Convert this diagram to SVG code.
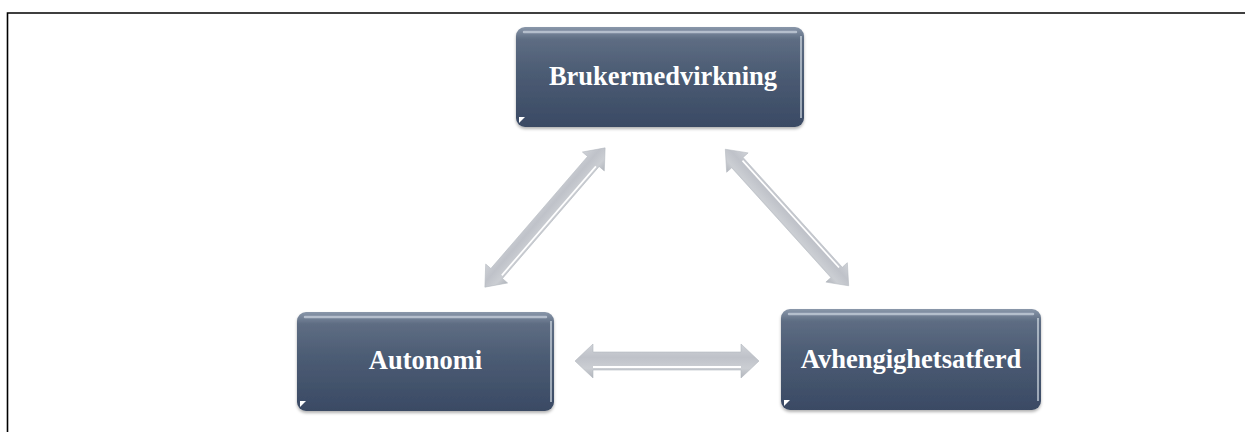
<svg xmlns="http://www.w3.org/2000/svg" width="1245" height="432" viewBox="0 0 1245 432">
  <defs>
    <style>
      .lbl { font-family: "Liberation Serif", "Times New Roman", serif; font-weight: bold; font-size: 26.5px; fill: #ffffff; text-anchor: middle; }
      .box { fill: url(#boxGrad); filter: url(#shadow); }
      .hl { fill: none; stroke: #c9d2dd; stroke-width: 2.5; stroke-opacity: 0.75; stroke-linecap: round; }
      .side { fill: none; stroke: #dfe6ee; stroke-width: 1.5; stroke-opacity: 0.8; }
      .tri { fill: #ffffff; }
      .arrow { fill: url(#arrGrad); stroke: #b4b8bf; stroke-width: 0.6; }
      .shine { fill: none; stroke: #ffffff; stroke-width: 2; }
    </style>
    <linearGradient id="boxGrad" x1="0" y1="0" x2="0" y2="1">
      <stop offset="0" stop-color="#8a97aa"/>
      <stop offset="0.12" stop-color="#5e6d83"/>
      <stop offset="0.45" stop-color="#4c5c74"/>
      <stop offset="1" stop-color="#3a4a64"/>
    </linearGradient>
    <linearGradient id="arrGrad" gradientUnits="userSpaceOnUse" x1="0" y1="-18" x2="0" y2="18">
      <stop offset="0" stop-color="#d0d3d8"/>
      <stop offset="0.4" stop-color="#bfc2c9"/>
      <stop offset="0.7" stop-color="#cbced3"/>
      <stop offset="1" stop-color="#aeb2b9"/>
    </linearGradient>
    <filter id="shadow" x="-10%" y="-10%" width="120%" height="130%">
      <feDropShadow dx="0" dy="2" stdDeviation="1.5" flood-color="#000000" flood-opacity="0.3"/>
    </filter>
    <path id="dArrow" class="arrow" d="M -92 0 L -74 -17 L -74 -9 L 74 -9 L 74 -17 L 92 0 L 74 17 L 74 9 L -74 9 L -74 17 Z"/>
  </defs>

  <rect width="1245" height="432" fill="#ffffff"/>

  <g id="frame" fill="none" stroke="#000000" stroke-width="1.6">
    <path d="M 7.5 432 L 7.5 13 L 1245 13"/>
  </g>

  <g id="connectors">
    <g transform="translate(545 217.5) rotate(-49.2) scale(1 0.85)">
      <use href="#dArrow"/>
      <path class="shine" d="M -72 6 L 72 6"/>
    </g>
    <g transform="translate(787 217.5) rotate(47.9) scale(1 0.85)">
      <use href="#dArrow"/>
      <path class="shine" d="M -72 -6 L 72 -6"/>
    </g>
    <g transform="translate(667 361)">
      <use href="#dArrow"/>
      <path class="shine" d="M -74 6 L 74 6"/>
    </g>
  </g>

  <g id="node-brukermedvirkning">
    <rect class="box" x="516" y="27" width="288" height="100" rx="9"/>
    <path class="hl" d="M 524 32 L 796 32"/>
    <path class="side" d="M 801 36 L 801 118"/>
    <path class="tri" d="M 519 117 L 525 117 L 519 123 Z"/>
    <text class="lbl" x="663" y="85">Brukermedvirkning</text>
  </g>

  <g id="node-autonomi">
    <rect class="box" x="297" y="312" width="257" height="99" rx="9"/>
    <path class="hl" d="M 305 317 L 546 317"/>
    <path class="side" d="M 551 321 L 551 402"/>
    <path class="tri" d="M 300 401 L 306 401 L 300 407 Z"/>
    <text class="lbl" x="425.5" y="369">Autonomi</text>
  </g>

  <g id="node-avhengighetsatferd">
    <rect class="box" x="781" y="309" width="260" height="101" rx="9"/>
    <path class="hl" d="M 789 314 L 1033 314"/>
    <path class="side" d="M 1038 318 L 1038 401"/>
    <path class="tri" d="M 784 400 L 790 400 L 784 406 Z"/>
    <text class="lbl" x="911" y="368">Avhengighetsatferd</text>
  </g>
</svg>
